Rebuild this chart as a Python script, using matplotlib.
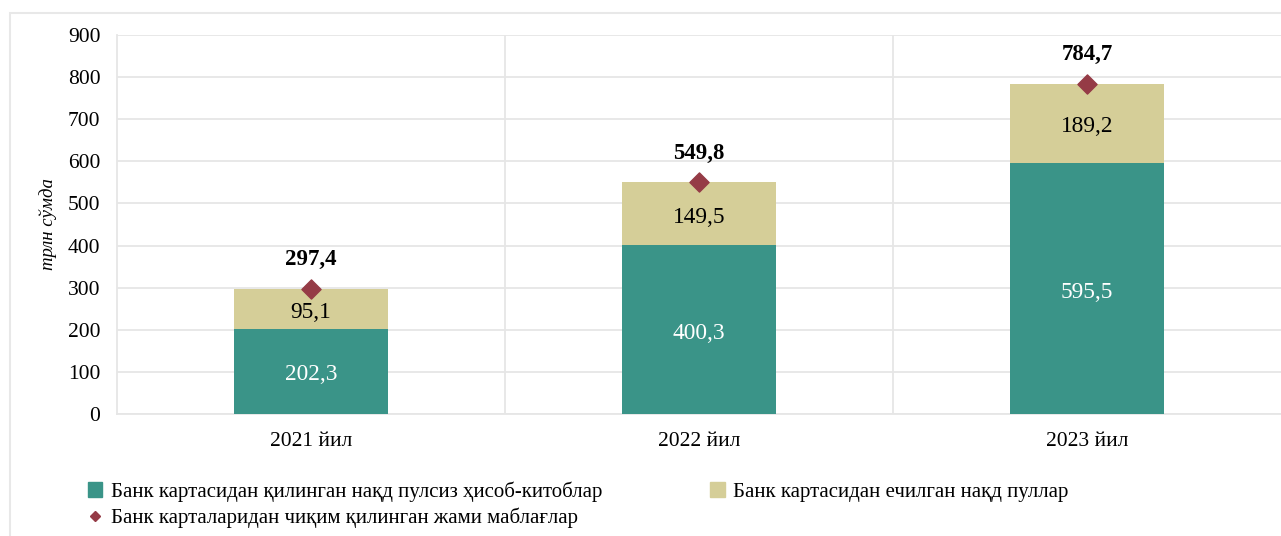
import matplotlib.pyplot as plt
from matplotlib.patches import Rectangle
from matplotlib.lines import Line2D

plt.rcParams['font.family'] = ['Liberation Serif', 'DejaVu Serif']

# data
years = ['2021 йил', '2022 йил', '2023 йил']
cashless = [202.3, 400.3, 595.5]
cash = [95.1, 149.5, 189.2]
total = [297.4, 549.8, 784.7]

teal = '#3A9488'
beige = '#D5CE98'
dark_red = '#953B46'

fig = plt.figure(figsize=(12.81, 5.36), dpi=100)
ax = fig.add_axes([0.0913, 0.2276, 0.9087, 0.7071])

# outer chart border
fig.patches.append(Rectangle((0.008, -0.01), 1.0, 0.985, transform=fig.transFigure,
                             fill=False, edgecolor='#E8E8E8', linewidth=1.5))

x = range(len(years))
w = 0.395
ax.bar(x, cashless, width=w, color=teal, zorder=3)
ax.bar(x, cash, width=w, bottom=cashless, color=beige, zorder=3)
ax.scatter(x, total, marker='D', s=95, color=dark_red, zorder=4)


def fmt(v):
    return f'{v:.1f}'.replace('.', ',')


for i in x:
    ax.annotate(fmt(cashless[i]), (i, cashless[i] / 2), xytext=(0, -2.5),
                textcoords='offset points', ha='center', va='center',
                color='white', fontsize=16.8, zorder=5)
    ax.annotate(fmt(cash[i]), (i, cashless[i] + cash[i] / 2), xytext=(0, -2.5),
                textcoords='offset points', ha='center', va='center',
                color='black', fontsize=16.8, zorder=5)
    ax.annotate(fmt(total[i]), (i, total[i]),
                xytext=(0, 13.5), textcoords='offset points',
                ha='center', va='bottom', fontsize=16.5, fontweight='bold')

ax.set_xlim(-0.5, 2.5)
ax.set_ylim(0, 900)
ax.set_yticks(range(0, 901, 100))
ax.set_xticks(list(x))
ax.set_xticklabels(years)
ax.set_xticks([0.5, 1.5], minor=True)
ax.grid(axis='y', color='#E6E6E6', linewidth=1.3, zorder=0)
ax.grid(axis='x', which='minor', color='#E6E6E6', linewidth=1.3, zorder=0)
ax.tick_params(axis='both', which='both', length=0, labelsize=15.5)
ax.tick_params(axis='y', pad=12)
ax.tick_params(axis='x', pad=13)
for side in ['top', 'right']:
    ax.spines[side].set_visible(False)
for side in ['left', 'bottom']:
    ax.spines[side].set_color('#E6E6E6')
    ax.spines[side].set_linewidth(1.3)

ax.set_ylabel('трлн сўмда', fontstyle='italic', fontsize=13.5, labelpad=8)

handles = [
    Rectangle((0, 0), 1, 1, color=teal),
    Line2D([], [], marker='D', color=dark_red, linestyle='none', markersize=5),
    Rectangle((0, 0), 1, 1, color=beige),
]
labels = [
    'Банк картасидан қилинган нақд пулсиз ҳисоб-китоблар',
    'Банк карталаридан чиқим қилинган жами маблағлар',
    'Банк картасидан ечилган нақд пуллар',
]
fig.legend(handles, labels, ncol=2, loc='upper left', bbox_to_anchor=(0.062, 0.118),
           frameon=False, fontsize=15, handlelength=0.7, handleheight=0.7,
           handletextpad=0.4, columnspacing=5.2, labelspacing=0.3,
           borderaxespad=0)

fig.savefig('out.png', dpi=100)
